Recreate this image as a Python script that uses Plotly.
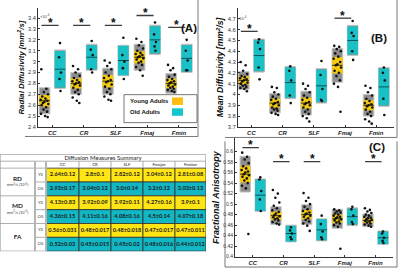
import plotly.graph_objects as go

W, H = 400, 272
FONT = "Liberation Sans"
TFONT = "Lato"

categories = ["CC", "CR", "SLF", "Fmaj", "Fmin"]

# ---------------- Panel A : Radial Diffusivity (x1e-4 mm^2/s) ----------------
rd_ticks = [2.4, 2.5, 2.6, 2.7, 2.8, 2.9, 3.0, 3.1, 3.2, 3.3, 3.4]
rd_young_pts = [
    [2.93, 2.75, 2.72, 2.70, 2.68, 2.66, 2.65, 2.64, 2.63, 2.62, 2.61, 2.60, 2.58, 2.56, 2.54, 2.52, 2.50, 2.49],
    [2.96, 2.93, 2.90, 2.87, 2.85, 2.83, 2.82, 2.81, 2.80, 2.79, 2.78, 2.76, 2.74, 2.72, 2.70, 2.67, 2.64, 2.62],
    [3.01, 2.99, 2.96, 2.93, 2.90, 2.87, 2.85, 2.83, 2.82, 2.81, 2.79, 2.77, 2.75, 2.72, 2.70, 2.68, 2.65, 2.64],
    [3.21, 3.18, 3.15, 3.12, 3.10, 3.08, 3.07, 3.06, 3.05, 3.04, 3.03, 3.02, 3.00, 2.99, 2.97, 2.95, 2.92, 2.87],
    [2.97, 2.94, 2.92, 2.88, 2.86, 2.84, 2.83, 2.82, 2.81, 2.80, 2.79, 2.78, 2.77, 2.76, 2.75, 2.74, 2.73, 2.72],
]
rd_old_pts = [
    [3.17, 3.04, 2.90, 2.84, 2.73],
    [3.19, 3.11, 3.06, 2.93, 2.90],
    [3.22, 3.06, 3.00, 2.94, 2.84],
    [3.36, 3.25, 3.18, 3.14, 3.10],
    [3.20, 3.10, 3.01, 2.92, 2.92],
]
rd_young_mean = [2.64, 2.80, 2.82, 3.04, 2.80]
rd_young_sd = [0.12, 0.10, 0.12, 0.12, 0.09]
rd_young_ci = [0.053, 0.048, 0.056, 0.056, 0.045]
rd_old_mean = [2.93, 3.04, 3.01, 3.20, 3.03]
rd_old_sd = [0.177, 0.12, 0.14, 0.135, 0.13]
rd_old_ci = [0.167, 0.11, 0.136, 0.124, 0.12]
rd_sig = [3.333, 3.333, 3.333, 3.424, 3.315]

# ---------------- Panel B : Mean Diffusivity (x1e-4 mm^2/s) ----------------
md_ticks = [3.7, 3.8, 3.9, 4.0, 4.1, 4.2, 4.3, 4.4, 4.5, 4.6, 4.7]
md_young_pts = [
    [4.30, 4.27, 4.22, 4.19, 4.17, 4.16, 4.15, 4.14, 4.13, 4.12, 4.11, 4.10, 4.09, 4.08, 4.07, 4.06, 4.05, 4.03],
    [4.07, 4.06, 4.02, 4.00, 3.98, 3.96, 3.95, 3.93, 3.92, 3.91, 3.90, 3.88, 3.87, 3.86, 3.85, 3.83, 3.82, 3.81],
    [4.10, 4.08, 4.05, 4.02, 3.99, 3.97, 3.95, 3.93, 3.92, 3.91, 3.90, 3.88, 3.86, 3.84, 3.82, 3.80, 3.78, 3.75],
    [4.45, 4.44, 4.42, 4.40, 4.38, 4.35, 4.33, 4.30, 4.28, 4.27, 4.25, 4.22, 4.20, 4.17, 4.13, 4.10, 4.07, 3.84],
    [4.08, 4.06, 4.02, 3.99, 3.96, 3.94, 3.92, 3.91, 3.90, 3.89, 3.88, 3.86, 3.84, 3.82, 3.80, 3.77, 3.75, 3.73],
]
md_old_pts = [
    [4.51, 4.48, 4.42, 4.25, 4.14],
    [4.26, 4.22, 4.13, 3.99, 3.92],
    [4.31, 4.18, 4.05, 3.95, 3.94],
    [4.68, 4.57, 4.54, 4.40, 4.32],
    [4.25, 4.20, 4.13, 3.96, 3.81],
]
md_young_mean = [4.13, 3.92, 3.92, 4.27, 3.90]
md_young_sd = [0.083, 0.09, 0.11, 0.157, 0.10]
md_young_ci = [0.038, 0.042, 0.05, 0.076, 0.047]
md_old_mean = [4.36, 4.11, 4.08, 4.50, 4.07]
md_old_sd = [0.153, 0.15, 0.16, 0.14, 0.18]
md_old_ci = [0.143, 0.14, 0.15, 0.13, 0.17]
md_sig = [4.584, None, None, 4.706, None]

# ---------------- Panel C : Fractional Anisotropy ----------------
fa_ticks = [0.40, 0.42, 0.44, 0.46, 0.48, 0.50, 0.52, 0.54, 0.56, 0.58, 0.60]
fa_young_pts = [
    [0.598, 0.590, 0.585, 0.578, 0.572, 0.568, 0.565, 0.562, 0.560, 0.557, 0.555, 0.552, 0.549, 0.545, 0.540, 0.535, 0.530, 0.443],
    [0.527, 0.520, 0.512, 0.503, 0.497, 0.492, 0.488, 0.485, 0.482, 0.479, 0.477, 0.475, 0.473, 0.471, 0.469, 0.466, 0.463, 0.461],
    [0.521, 0.512, 0.506, 0.500, 0.495, 0.490, 0.487, 0.484, 0.482, 0.480, 0.478, 0.476, 0.473, 0.470, 0.467, 0.463, 0.459, 0.449],
    [0.490, 0.488, 0.486, 0.484, 0.482, 0.480, 0.478, 0.476, 0.475, 0.473, 0.471, 0.469, 0.467, 0.465, 0.463, 0.460, 0.457, 0.415],
    [0.492, 0.489, 0.486, 0.483, 0.480, 0.478, 0.476, 0.474, 0.473, 0.471, 0.470, 0.468, 0.467, 0.465, 0.463, 0.461, 0.459, 0.457],
]
fa_old_pts = [
    [0.551, 0.547, 0.525, 0.509, 0.487],
    [0.456, 0.450, 0.444, 0.437, 0.433],
    [0.478, 0.462, 0.448, 0.437, 0.433],
    [0.495, 0.490, 0.478, 0.466, 0.462],
    [0.448, 0.444, 0.436, 0.430, 0.426],
]
fa_young_mean = [0.557, 0.478, 0.480, 0.472, 0.469]
fa_young_sd = [0.034, 0.017, 0.019, 0.018, 0.012]
fa_young_ci = [0.016, 0.008, 0.009, 0.008, 0.005]
fa_old_mean = [0.517, 0.444, 0.451, 0.476, 0.436]
fa_old_sd = [0.031, 0.016, 0.021, 0.017, 0.013]
fa_old_ci = [0.030, 0.015, 0.020, 0.015, 0.012]
fa_sig = [0.6075, 0.581, 0.581, None, 0.581]

# ---------------- Table ----------------
table_title = "Diffusion Measures Summary"
table_cols = ["CC", "CR", "SLF", "Fmajor", "Fminor"]
table_groups = ["RD", "MD", "FA"]
table_units = ["mm<sup>2</sup>/s (10<sup>-4</sup>)", "mm<sup>2</sup>/s (10<sup>-4</sup>)", ""]
table_sub = ["YS", "OS"]
rd_ys = ["2.64±0.12", "2.8±0.1", "2.82±0.12", "3.04±0.12", "2.81±0.08"]
rd_os = ["2.93±0.17", "3.04±0.12", "3.0±0.14", "3.2±0.12", "3.03±0.13"]
md_ys = ["4.13±0.83", "3.92±0.09", "3.92±0.11", "4.27±0.16", "3.9±0.1"]
md_os = ["4.36±0.15", "4.11±0.16", "4.08±0.16", "4.5±0.14", "4.07±0.18"]
fa_ys = ["0.56±0.031", "0.48±0.017", "0.48±0.018", "0.47±0.017", "0.47±0.011"]
fa_os = ["0.52±0.03", "0.45±0.015", "0.45±0.02", "0.48±0.016", "0.44±0.012"]

# ---------------- styling ----------------
GRAY = "#8E8E8E"
GRAY_EDGE = "#C6C6C6"
YEL = "#F5C90C"
TEAL = "#19C0C6"
LEG_YEL = "#FDBD12"
LEG_TEAL = "#12C6CB"
TAB_YEL = "#FFE514"
TAB_TEAL = "#13B7C4"
OFF = 0.245
BW = 0.34
young_jit = [-0.10, 0.06, -0.02, 0.11, -0.07, 0.03, -0.12, 0.09, 0.00,
             -0.05, 0.12, -0.09, 0.05, -0.03, 0.08, -0.11, 0.02, 0.10]
old_jit = [0.0, -0.03, 0.03, -0.015, 0.015]


def px(x):
    return x / W


def py(y):
    return 1 - y / H


fig = go.Figure()
annotations = []


def add_panel(n, ym, ysd, yci, om, osd, oci, ypts, opts, sig):
    xa = "x" if n == 1 else f"x{n}"
    ya = "y" if n == 1 else f"y{n}"
    cats = list(range(1, len(categories) + 1))
    xy = [c - OFF for c in cats]
    xo = [c + OFF for c in cats]
    fig.add_trace(go.Bar(
        x=xy + xo, y=[2 * s for s in ysd + osd],
        base=[m - s for m, s in zip(ym + om, ysd + osd)],
        width=BW, marker=dict(color=GRAY, line=dict(color=GRAY_EDGE, width=1)),
        xaxis=xa, yaxis=ya, showlegend=False, hoverinfo="skip"))
    fig.add_trace(go.Bar(
        x=xy, y=[2 * c for c in yci], base=[m - c for m, c in zip(ym, yci)],
        width=BW, marker=dict(color=YEL, line=dict(width=0)),
        xaxis=xa, yaxis=ya, showlegend=False, hoverinfo="skip"))
    fig.add_trace(go.Bar(
        x=xo, y=[2 * c for c in oci], base=[m - c for m, c in zip(om, oci)],
        width=BW, marker=dict(color=TEAL, line=dict(width=0)),
        xaxis=xa, yaxis=ya, showlegend=False, hoverinfo="skip"))
    for xs, ms, col in ((xy, ym, "#3a3320"), (xo, om, "#0d5258")):
        lx, ly = [], []
        for x, m in zip(xs, ms):
            lx += [x - BW / 2, x + BW / 2, None]
            ly += [m, m, None]
        fig.add_trace(go.Scatter(x=lx, y=ly, mode="lines", line=dict(color=col, width=1),
                                 xaxis=xa, yaxis=ya, showlegend=False, hoverinfo="skip"))
    px_, py_ = [], []
    for x, pts in zip(xy, ypts):
        for k, v in enumerate(pts):
            px_.append(x + young_jit[k % len(young_jit)])
            py_.append(v)
    for x, pts in zip(xo, opts):
        for k, v in enumerate(pts):
            px_.append(x + old_jit[k % len(old_jit)])
            py_.append(v)
    fig.add_trace(go.Scatter(x=px_, y=py_, mode="markers",
                             marker=dict(size=2.6, color="#111111", line=dict(width=0)),
                             xaxis=xa, yaxis=ya, showlegend=False, hoverinfo="skip", cliponaxis=False))
    sx, sy = [], []
    for c, s in zip(cats, sig):
        if s is None:
            continue
        sx += [c - 0.34, c + 0.2, None]
        sy += [s, s, None]
        annotations.append(dict(text="*", x=c - 0.07, y=s, xref=xa, yref=ya, showarrow=False,
                                yanchor="middle", yshift=2.5,
                                font=dict(family=FONT, size=12, color="#111", weight="bold")))
    fig.add_trace(go.Scatter(x=sx, y=sy, mode="lines", line=dict(color="#3c3c3c", width=1.3),
                             xaxis=xa, yaxis=ya, showlegend=False, hoverinfo="skip", cliponaxis=False))


add_panel(1, rd_young_mean, rd_young_sd, rd_young_ci, rd_old_mean, rd_old_sd, rd_old_ci,
          rd_young_pts, rd_old_pts, rd_sig)
add_panel(2, md_young_mean, md_young_sd, md_young_ci, md_old_mean, md_old_sd, md_old_ci,
          md_young_pts, md_old_pts, md_sig)
add_panel(3, fa_young_mean, fa_young_sd, fa_young_ci, fa_old_mean, fa_old_sd, fa_old_ci,
          fa_young_pts, fa_old_pts, fa_sig)

panel_geo = [
    dict(x=(38, 197), y=(8.4, 128.3), xr=[0.55, 5.57], yr=[2.4, 3.49], ticks=rd_ticks, tfs=5.6,
         title="Radial Diffusivity [mm<sup>2</sup>/s]", ttfs=7.8),
    dict(x=(238, 394), y=(8.1, 128.3), xr=[0.57, 5.57], yr=[3.7, 4.8], ticks=md_ticks, tfs=5.8,
         title="Mean Diffusivity [mm<sup>2</sup>/s]", ttfs=8.6),
    dict(x=(235, 393), y=(140, 259.5), xr=[0.42, 5.57], yr=[0.4, 0.625], ticks=fa_ticks, tfs=5.0,
         title="Fractional Anisotropy", ttfs=9.0),
]

layout = dict(width=W, height=H, margin=dict(l=0, r=0, t=0, b=0),
              paper_bgcolor="white", plot_bgcolor="rgba(0,0,0,0)",
              barmode="overlay", showlegend=False, hovermode=False)

for i, g in enumerate(panel_geo):
    sfx = "" if i == 0 else str(i + 1)
    layout["xaxis" + sfx] = dict(
        domain=[px(g["x"][0]), px(g["x"][1])], range=g["xr"],
        anchor="y" + sfx, tickvals=[1, 2, 3, 4, 5], ticktext=categories,
        ticks="inside", ticklen=2, tickcolor="#333", showline=True, linecolor="#333",
        linewidth=1, showgrid=False, zeroline=False, fixedrange=True,
        tickfont=dict(family=FONT, size=6, color="#222", weight="bold", style="italic"))
    layout["yaxis" + sfx] = dict(
        domain=[py(g["y"][1]), py(g["y"][0])], range=g["yr"],
        anchor="x" + sfx, tickvals=g["ticks"], ticktext=[f"{v:g}" for v in g["ticks"]],
        ticks="inside", ticklen=2, tickcolor="#333", showline=True, linecolor="#333",
        linewidth=1, showgrid=False, zeroline=False, fixedrange=True,
        tickfont=dict(family=FONT, size=g["tfs"], color="#333"),
        title=dict(text=g["title"], standoff=2,
                   font=dict(family=FONT, size=g["ttfs"], color="#111", weight="bold", style="italic")))

TX0, TX1, TY0, TY1 = 0, 206, 156, 254
layout["xaxis4"] = dict(domain=[px(TX0), px(TX1)], range=[TX0, TX1], visible=False,
                        anchor="y4", fixedrange=True)
layout["yaxis4"] = dict(domain=[py(TY1), py(TY0)], range=[TY1, TY0], visible=False,
                        anchor="x4", fixedrange=True)

shapes = []

for txt, (xx, yy) in (("(A)", (188.5, 20)), ("(B)", (389, 30)), ("(C)", (387, 149))):
    annotations.append(dict(text=txt, x=px(xx), y=py(yy), xref="paper", yref="paper",
                            showarrow=False, font=dict(family=FONT, size=11.5, color="#111", weight="bold")))
for xx, yy in ((39, 12), (241.5, 14.5)):
    annotations.append(dict(text="×10<sup>-4</sup>", x=px(xx), y=py(yy), xref="paper", yref="paper",
                            showarrow=False, borderpad=0, font=dict(family=FONT, size=4, color="#444")))

shapes.append(dict(type="rect", xref="paper", yref="paper", x0=px(124), x1=px(197), y0=py(124), y1=py(95.7),
                   fillcolor="white", line=dict(color="#555", width=0.8), layer="above"))
for lab, col, yy in (("Young Adults", LEG_YEL, 102.3), ("Old Adults", LEG_TEAL, 113.3)):
    shapes.append(dict(type="rect", xref="paper", yref="paper", x0=px(172), x1=px(183),
                       y0=py(yy + 3.8), y1=py(yy - 3.8), fillcolor=col, line=dict(width=0), layer="above"))
    annotations.append(dict(text=lab, x=px(128), y=py(yy), xref="paper", yref="paper", xanchor="left",
                            showarrow=False, font=dict(family=FONT, size=6, color="#111", weight="bold")))

FR = dict(color="#555", width=0.8)
for x0, x1, y0, y1 in ((25, 198, 138, 138), (198, 198, 0, 138),
                       (225, 397, 139, 139), (397, 397, 0, 139),
                       (225, 397, 270, 270), (397, 397, 143, 270), (225, 225, 143, 270)):
    shapes.append(dict(type="line", xref="paper", yref="paper", x0=px(x0), x1=px(x1),
                       y0=py(y0), y1=py(y1), line=FR))

col_edges = [0, 35, 46, 79, 111, 143, 175, 206]
row_edges = [156, 163, 170, 184, 198, 212, 226, 240, 254]
values = [rd_ys, rd_os, md_ys, md_os, fa_ys, fa_os]

shapes.append(dict(type="rect", xref="x4", yref="y4", x0=TX0, x1=TX1, y0=TY0, y1=TY1,
                   fillcolor="white", line=dict(color="#8a8a8a", width=1), layer="below"))
for r, rowvals in enumerate(values):
    y0, y1 = row_edges[r + 2], row_edges[r + 3]
    fill = TAB_YEL if r % 2 == 0 else TAB_TEAL
    for c in range(len(rowvals)):
        x0, x1 = col_edges[c + 2], col_edges[c + 3]
        shapes.append(dict(type="rect", xref="x4", yref="y4", x0=x0, x1=x1, y0=y0, y1=y1,
                           fillcolor=fill, line=dict(color="#2e2e2e", width=0.8), layer="below"))
LG = dict(color="#9a9a9a", width=0.8)
shapes.append(dict(type="line", xref="x4", yref="y4", x0=TX0, x1=TX1, y0=row_edges[1], y1=row_edges[1], line=LG))
for yy in (row_edges[2], row_edges[4], row_edges[6]):
    shapes.append(dict(type="line", xref="x4", yref="y4", x0=TX0, x1=col_edges[2], y0=yy, y1=yy, line=LG))
for yy in (row_edges[3], row_edges[5], row_edges[7]):
    shapes.append(dict(type="line", xref="x4", yref="y4", x0=col_edges[1], x1=col_edges[2], y0=yy, y1=yy, line=LG))
for c in range(2, 7):
    shapes.append(dict(type="line", xref="x4", yref="y4", x0=col_edges[c + 1], x1=col_edges[c + 1],
                       y0=row_edges[1], y1=row_edges[2], line=LG))
for xx in (col_edges[1], col_edges[2]):
    shapes.append(dict(type="line", xref="x4", yref="y4", x0=xx, x1=xx, y0=row_edges[1], y1=TY1,
                       line=dict(color="#b5b5b5", width=2)))

vx, vy, vt = [], [], []
for r, rowvals in enumerate(values):
    yc = (row_edges[r + 2] + row_edges[r + 3]) / 2
    for c, t in enumerate(rowvals):
        vx.append((col_edges[c + 2] + col_edges[c + 3]) / 2)
        vy.append(yc)
        vt.append(t)
fig.add_trace(go.Scatter(x=vx, y=vy, text=vt, mode="text", textposition="middle center",
                         textfont=dict(family=TFONT, size=5.6, color="#1a1a1a", weight="bold"),
                         xaxis="x4", yaxis="y4", showlegend=False, hoverinfo="skip"))
fig.add_trace(go.Scatter(x=[(TX0 + TX1) / 2], y=[(row_edges[0] + row_edges[1]) / 2 + 0.3], text=[table_title],
                         mode="text", textposition="middle center",
                         textfont=dict(family=TFONT, size=6, color="#1a1a1a"),
                         xaxis="x4", yaxis="y4", showlegend=False, hoverinfo="skip"))
fig.add_trace(go.Scatter(x=[(col_edges[c + 2] + col_edges[c + 3]) / 2 for c in range(len(table_cols))],
                         y=[(row_edges[1] + row_edges[2]) / 2] * len(table_cols), text=table_cols,
                         mode="text", textposition="middle center",
                         textfont=dict(family=TFONT, size=4.3, color="#1a1a1a"),
                         xaxis="x4", yaxis="y4", showlegend=False, hoverinfo="skip"))
sx_, sy_, st_ = [], [], []
for r in range(6):
    sx_.append((col_edges[1] + col_edges[2]) / 2)
    sy_.append((row_edges[r + 2] + row_edges[r + 3]) / 2)
    st_.append(table_sub[r % 2])
fig.add_trace(go.Scatter(x=sx_, y=sy_, text=st_, mode="text", textposition="middle center",
                         textfont=dict(family=TFONT, size=4.3, color="#333"),
                         xaxis="x4", yaxis="y4", showlegend=False, hoverinfo="skip"))
gx, gy, gt, ux, uy, ut = [], [], [], [], [], []
for gi, (gname, unit) in enumerate(zip(table_groups, table_units)):
    yc = row_edges[2 + 2 * gi + 1]
    gx.append((col_edges[0] + col_edges[1]) / 2)
    gy.append(yc - (3 if unit else 0))
    gt.append(gname)
    if unit:
        ux.append((col_edges[0] + col_edges[1]) / 2)
        uy.append(yc + 3.5)
        ut.append(unit)
fig.add_trace(go.Scatter(x=gx, y=gy, text=gt, mode="text", textposition="middle center",
                         textfont=dict(family=TFONT, size=6.4, color="#222", weight="bold"),
                         xaxis="x4", yaxis="y4", showlegend=False, hoverinfo="skip"))
fig.add_trace(go.Scatter(x=ux, y=uy, text=ut, mode="text", textposition="middle center",
                         textfont=dict(family=TFONT, size=3.9, color="#444"),
                         xaxis="x4", yaxis="y4", showlegend=False, hoverinfo="skip"))

layout["shapes"] = shapes
layout["annotations"] = annotations
fig.update_layout(**layout)

fig.write_html("out.html", config={"displayModeBar": False},
               post_script="document.body.style.margin='0';")
